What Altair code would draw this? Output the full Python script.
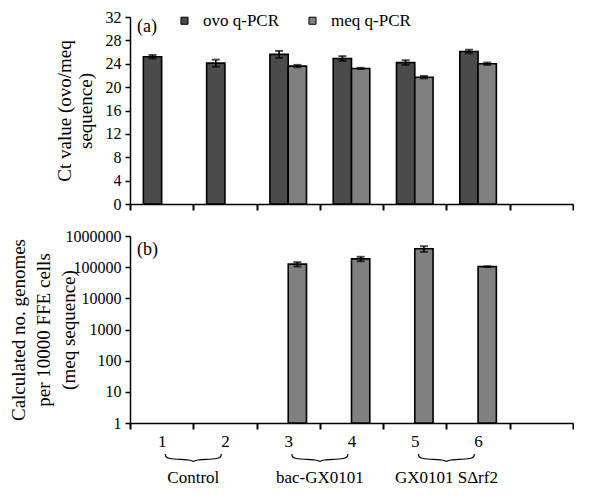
import altair as alt
import pandas as pd

# ---------------- data ----------------
groups = ["1", "2", "3", "4", "5", "6"]
series = ["ovo q-PCR", "meq q-PCR"]
ovo_ct = [25.2, 24.1, 25.6, 24.9, 24.2, 26.1]
ovo_ct_err = [0.3, 0.6, 0.6, 0.4, 0.4, 0.3]
meq_ct = [None, None, 23.6, 23.2, 21.7, 24.0]
meq_ct_err = [None, None, 0.2, 0.1, 0.2, 0.2]
meq_genomes = [None, None, 125000, 185000, 390000, 104000]
meq_genomes_err = [None, None, 20000, 30000, 80000, 3000]
group_names = ["Control", "bac-GX0101", "GX0101 SΔrf2"]
group_first = ["1", "3", "5"]
log_ticks = [1, 10, 100, 1000, 10000, 100000, 1000000]
ct_ticks = [0, 4, 8, 12, 16, 20, 24, 28, 32]

# ---------------- tables ----------------
rows = []
for g, v, e in zip(groups, ovo_ct, ovo_ct_err):
    rows.append(dict(group=g, series=series[0], value=v, lo=v - e, hi=v + e))
for g, v, e in zip(groups, meq_ct, meq_ct_err):
    if v is not None:
        rows.append(dict(group=g, series=series[1], value=v, lo=v - e, hi=v + e))
df_top = pd.DataFrame(rows)

rows = []
for g, v, e in zip(groups, meq_genomes, meq_genomes_err):
    if v is not None:
        rows.append(dict(group=g, series=series[1], value=v, lo=v - e, hi=v + e))
df_bot = pd.DataFrame(rows)

df_groups = pd.DataFrame({"group": group_first, "name": group_names})

brace_rows = []
for k, first in enumerate(group_first):
    a = groups.index(first)
    s, m, e = a + 0.56, a + 1.0, a + 1.44
    pts = [(s, 0), (s, 0.6), (m, 0.6), (m, 1.0), (m, 0.6), (e, 0.6), (e, 0)]
    for i, (bx, by) in enumerate(pts):
        brace_rows.append(dict(grp=k, i=i, bx=bx, by=by))
df_brace = pd.DataFrame(brace_rows)

FONT = "'Liberation Serif', 'Times New Roman', Times, serif"
W, H = 443, 187
domain_x = groups + [" "]

x_scale = alt.Scale(domain=domain_x, paddingInner=0, paddingOuter=0)
xo_scale = alt.Scale(domain=series, paddingInner=0, paddingOuter=0.73)
color_scale = alt.Scale(domain=series, range=["#4b4b4b", "#808080"])


def x_axis(labels):
    return alt.Axis(
        title=None,
        labels=labels,
        labelAngle=0,
        tickBand="extent",
        tickSize=6,
        tickWidth=2,
        labelFontSize=17,
        labelPadding=4,
        labelOverlap=False,
    )


def x_enc(labels, **kw):
    return alt.X("group:N", scale=x_scale, sort=domain_x, axis=x_axis(labels), **kw)


xo = alt.XOffset("series:N", scale=xo_scale, sort=series)

# ---------------- top panel ----------------
y_top_scale = alt.Scale(domain=[0, 32], nice=False, zero=True)
y_top_axis = alt.Axis(
    values=ct_ticks,
    tickCount=9,
    labelOverlap=False,
    title=["Ct value (ovo/meq", "sequence)"],
    titleX=-56,
    titleLineHeight=21,
)


def y_top(field):
    return alt.Y(field, scale=y_top_scale, axis=y_top_axis)


top_base = alt.Chart(df_top).encode(x=x_enc(False), xOffset=xo)
top_bars = top_base.mark_bar(stroke="black", strokeWidth=1.6).encode(
    y=y_top("value:Q"),
    color=alt.Color("series:N", scale=color_scale, sort=series, legend=alt.Legend(title=None)),
)
top_rule = top_base.mark_rule(color="black", strokeWidth=1.6).encode(
    y=y_top("lo:Q"), y2="hi:Q"
)
top_cap_hi = top_base.mark_tick(color="black", size=8, thickness=2).encode(y=y_top("hi:Q"))
top_cap_lo = top_base.mark_tick(color="black", size=8, thickness=2).encode(y=y_top("lo:Q"))
tag_a = (
    alt.Chart(pd.DataFrame({"t": ["(a)"]}))
    .mark_text(font=FONT, fontSize=18, align="left", baseline="middle", color="black")
    .encode(x=alt.value(7), y=alt.value(10), text="t:N")
)
top = alt.layer(top_bars, top_rule, top_cap_hi, top_cap_lo, tag_a).properties(
    width=W, height=H
)

# ---------------- bottom panel ----------------
y_bot_scale = alt.Scale(type="log", domain=[1, 1000000], nice=False)
y_bot_axis = alt.Axis(
    values=log_ticks,
    format="d",
    labelOverlap=False,
    title=["Calculated no. genomes", "per 10000 FFE cells", "(meq sequence)"],
    titleX=-102,
    titleLineHeight=25,
)


def y_bot(field):
    return alt.Y(field, scale=y_bot_scale, axis=y_bot_axis)


bot_base = alt.Chart(df_bot).encode(x=x_enc(True), xOffset=xo)
bot_bars = bot_base.mark_bar(stroke="black", strokeWidth=1.6, color="#808080").encode(
    y=y_bot("value:Q"),
    y2=alt.datum(1),
)
bot_rule = bot_base.mark_rule(color="black", strokeWidth=1.6).encode(
    y=y_bot("lo:Q"), y2="hi:Q"
)
bot_cap_hi = bot_base.mark_tick(color="black", size=8, thickness=2).encode(y=y_bot("hi:Q"))
bot_cap_lo = bot_base.mark_tick(color="black", size=8, thickness=2).encode(y=y_bot("lo:Q"))
tag_b = (
    alt.Chart(pd.DataFrame({"t": ["(b)"]}))
    .mark_text(font=FONT, fontSize=18, align="left", baseline="middle", color="black")
    .encode(x=alt.value(7), y=alt.value(14), text="t:N")
)
group_text = (
    alt.Chart(df_groups)
    .mark_text(font=FONT, fontSize=17, align="center", baseline="middle", color="black")
    .encode(
        x=x_enc(True, bandPosition=1),
        y=alt.value(H + 55),
        text="name:N",
    )
)
inner = alt.layer(bot_bars, bot_rule, bot_cap_hi, bot_cap_lo, tag_b, group_text)
braces = (
    alt.Chart(df_brace)
    .mark_line(color="black", strokeWidth=1.2, interpolate="basis")
    .encode(
        x=alt.X("bx:Q", scale=alt.Scale(domain=[0, len(domain_x)], nice=False, zero=False), axis=None),
        y=alt.Y("by:Q", scale=alt.Scale(domain=[0, 1], range=[H + 31, H + 40]), axis=None),
        detail="grp:N",
        order="i:O",
    )
)
bottom = (
    alt.layer(inner, braces)
    .resolve_scale(x="independent", y="independent")
    .properties(width=W, height=H)
)

chart = (
    alt.vconcat(top, bottom, spacing=16)
    .properties(padding={"left": 0, "top": 1, "right": 0, "bottom": 0})
    .configure(font=FONT)
    .configure_view(stroke=None)
    .configure_axis(
        grid=False,
        domainColor="black",
        domainWidth=1.5,
        tickColor="black",
        tickWidth=1.5,
        tickSize=5,
        labelFont=FONT,
        labelFontSize=16,
        labelPadding=4,
        labelColor="black",
        titleFont=FONT,
        titleFontSize=19,
        titleFontWeight="normal",
        titleColor="black",
    )
    .configure_legend(
        orient="none",
        legendX=46,
        legendY=-5,
        direction="horizontal",
        symbolType="square",
        symbolSize=50,
        symbolStrokeColor="black",
        symbolStrokeWidth=1,
        labelFont=FONT,
        labelFontSize=17,
        labelColor="black",
        labelOffset=10,
        columnPadding=24,
    )
)

chart.save("out.html", embed_options={"renderer": "svg", "actions": False})
